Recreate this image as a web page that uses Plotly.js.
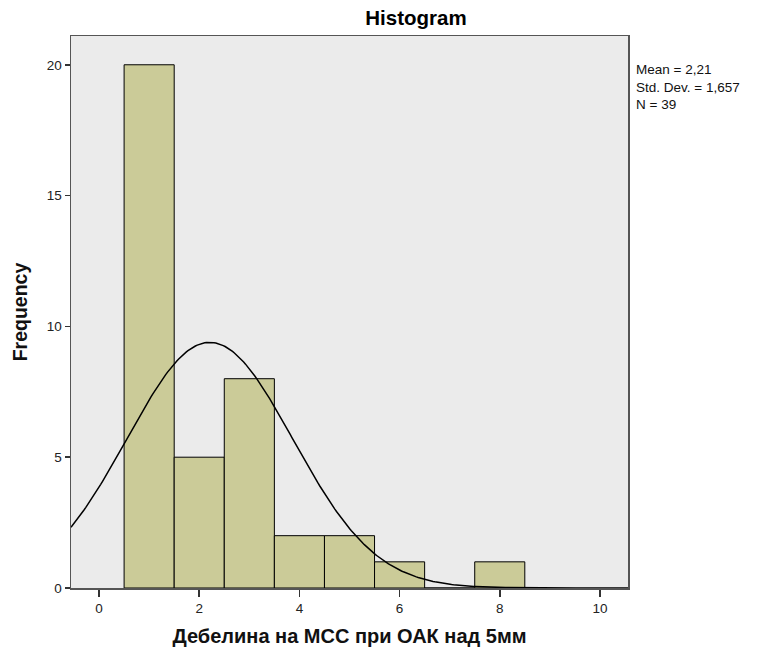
<!DOCTYPE html>
<html>
<head>
<meta charset="utf-8">
<script src="https://cdn.plot.ly/plotly-3.0.1.min.js"></script>
<style>html,body{margin:0;padding:0;background:#fff;}#chart{width:762px;height:651px;}</style>
</head>
<body>
<div id="chart"></div>
<script>
// Histogram bins (centres, width 1) and frequencies
var binCenters = [1, 2, 3, 4, 5, 6, 7, 8];
var frequencies = [20, 5, 8, 2, 2, 1, 0, 1];
var binWidth = 1;
// Summary statistics shown on the chart
var statMean = 2.21;
var statSD = 1.657;
var statN = 39;
var statLines = ["Mean = 2,21", "Std. Dev. = 1,657", "N = 39"];
var xTickVals = [0, 2, 4, 6, 8, 10];
var yTickVals = [0, 5, 10, 15, 20];

// Fitted normal curve from the stated mean / SD / N
var curveX = [], curveY = [];
for (var i = 0; i <= 300; i++) {
  var x = -0.56 + i * (11.12 / 300);
  var z = (x - statMean) / statSD;
  curveX.push(x);
  curveY.push(statN * binWidth * Math.exp(-0.5 * z * z) / (statSD * Math.sqrt(2 * Math.PI)));
}

var font = "Liberation Sans, Arial, sans-serif";
var data = [
  {
    type: "bar", x: binCenters, y: frequencies, width: binWidth,
    marker: {color: "#CBCB98", line: {color: "#000", width: 1}},
    hoverinfo: "x+y"
  },
  {
    type: "scatter", mode: "lines", x: curveX, y: curveY,
    line: {color: "#000", width: 1.5}, hoverinfo: "skip"
  }
];

var plotH = 651 - 36 - 63;

var layout = {
  width: 762, height: 651,
  margin: {l: 71, r: 134, t: 36, b: 63},
  paper_bgcolor: "#fff", plot_bgcolor: "#EBEBEB",
  showlegend: false,
  font: {family: font, color: "#222", size: 13},
  title: {text: "<b>Histogram</b>", font: {family: font, size: 20.5, color: "#000"},
          x: (416 - 71) / 557, xref: "paper", xanchor: "center", y: 1 - 18 / 651, yanchor: "middle"},
  xaxis: {
    range: [-0.56, 10.56], tickvals: xTickVals, ticks: "outside", ticklen: 7, tickwidth: 1.5,
    tickcolor: "#333", showgrid: false, zeroline: false,
    showline: true, linecolor: "#555", linewidth: 1.5, mirror: true,
    tickfont: {family: font, size: 13.5, color: "#222"},
    title: {text: "<b>Дебелина на МСС при ОАК над 5мм</b>", font: {family: font, size: 20, color: "#111"}, standoff: 14}
  },
  yaxis: {
    range: [0, 21.1], tickvals: yTickVals, ticks: "outside", ticklen: 5, tickwidth: 1.5,
    tickcolor: "#333", showgrid: false, zeroline: false,
    showline: true, linecolor: "#555", linewidth: 1.5, mirror: true,
    tickfont: {family: font, size: 13.5, color: "#222"},
    title: {text: "<b>Frequency</b>", font: {family: font, size: 19.5, color: "#111"}, standoff: 14}
  },
  annotations: [{
    xref: "paper", yref: "paper", x: 1 + 7 / 557, y: (588 - 87) / plotH,
    xanchor: "left", yanchor: "middle", align: "left", showarrow: false, borderpad: 0,
    text: statLines.join("<br>"), font: {family: font, size: 13.5, color: "#111"}
  }],
  bargap: 0
};

Plotly.newPlot("chart", data, layout, {displayModeBar: false, staticPlot: true});
</script>
</body>
</html>
